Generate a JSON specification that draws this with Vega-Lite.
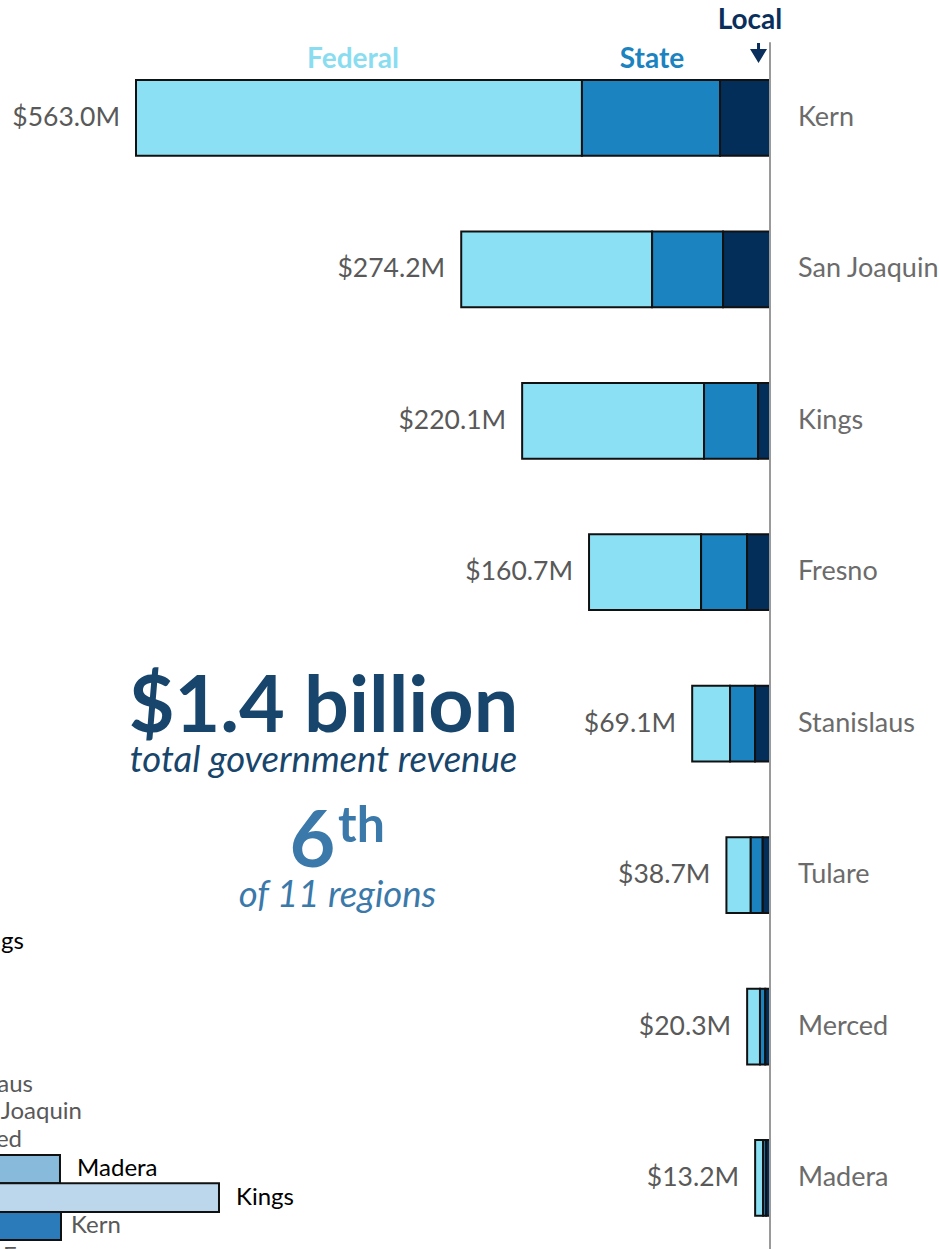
{
  "$schema": "https://vega.github.io/schema/vega-lite/v6.json",
  "width": 939,
  "height": 1249,
  "autosize": "none",
  "padding": 0,
  "background": "white",
  "config": {"view": {"stroke": null}, "font": "Lato"},
  "datasets": {
    "bars": [
      {"county": "Kern", "source": "Federal", "value": 396.0, "rank": 3},
      {"county": "Kern", "source": "State", "value": 122.6, "rank": 2},
      {"county": "Kern", "source": "Local", "value": 44.4, "rank": 1},
      {"county": "San Joaquin", "source": "Federal", "value": 169.5, "rank": 3},
      {"county": "San Joaquin", "source": "State", "value": 63.0, "rank": 2},
      {"county": "San Joaquin", "source": "Local", "value": 41.7, "rank": 1},
      {"county": "Kings", "source": "Federal", "value": 161.5, "rank": 3},
      {"county": "Kings", "source": "State", "value": 48.0, "rank": 2},
      {"county": "Kings", "source": "Local", "value": 10.6, "rank": 1},
      {"county": "Fresno", "source": "Federal", "value": 99.5, "rank": 3},
      {"county": "Fresno", "source": "State", "value": 40.8, "rank": 2},
      {"county": "Fresno", "source": "Local", "value": 20.4, "rank": 1},
      {"county": "Stanislaus", "source": "Federal", "value": 33.6, "rank": 3},
      {"county": "Stanislaus", "source": "State", "value": 22.2, "rank": 2},
      {"county": "Stanislaus", "source": "Local", "value": 13.3, "rank": 1},
      {"county": "Tulare", "source": "Federal", "value": 21.6, "rank": 3},
      {"county": "Tulare", "source": "State", "value": 10.6, "rank": 2},
      {"county": "Tulare", "source": "Local", "value": 6.5, "rank": 1},
      {"county": "Merced", "source": "Federal", "value": 11.4, "rank": 3},
      {"county": "Merced", "source": "State", "value": 4.7, "rank": 2},
      {"county": "Merced", "source": "Local", "value": 4.2, "rank": 1},
      {"county": "Madera", "source": "Federal", "value": 7.1, "rank": 3},
      {"county": "Madera", "source": "State", "value": 2.7, "rank": 2},
      {"county": "Madera", "source": "Local", "value": 3.4, "rank": 1}
    ],
    "totals": [
      {"county": "Kern", "total": 563.0, "label": "$563.0M"},
      {"county": "San Joaquin", "total": 274.2, "label": "$274.2M"},
      {"county": "Kings", "total": 220.1, "label": "$220.1M"},
      {"county": "Fresno", "total": 160.7, "label": "$160.7M"},
      {"county": "Stanislaus", "total": 69.1, "label": "$69.1M"},
      {"county": "Tulare", "total": 38.7, "label": "$38.7M"},
      {"county": "Merced", "total": 20.3, "label": "$20.3M"},
      {"county": "Madera", "total": 13.2, "label": "$13.2M"}
    ],
    "ghostbars": [
      {"name": "Madera", "end": 630.5, "r0": 6.848, "r1": 7.034},
      {"name": "Kings", "end": 489.3, "r0": 7.034, "r1": 7.225},
      {"name": "Kern", "end": 629.6, "r0": 7.225, "r1": 7.41}
    ],
    "ghostblackleft": [
      {"name": "Madera", "x": 615.3, "r": 6.941},
      {"name": "Kings", "x": 474.2, "r": 7.132}
    ],
    "ghostgrayleft": [
      {"name": "Kern", "x": 620.7, "r": 7.317},
      {"name": "Fresno", "x": 681.0, "r": 7.52}
    ],
    "ghostblackright": [
      {"name": "Kings", "x": 662.5, "r": 5.441}
    ],
    "ghostgrayright": [
      {"name": "Stanislaus", "x": 654.5, "r": 6.386},
      {"name": "San Joaquin", "x": 611.0, "r": 6.564},
      {"name": "Merced", "x": 664.2, "r": 6.749}
    ]
  },
  "layer": [
    {
      "layer": [
        {
          "data": {"name": "bars"},
          "mark": {"type": "bar", "stroke": "#111111", "strokeWidth": 2},
          "encoding": {
            "y": {"field": "county", "type": "nominal", "sort": ["Kern", "San Joaquin", "Kings", "Fresno", "Stanislaus", "Tulare", "Merced", "Madera"], "scale": {"paddingInner": 0.5, "paddingOuter": 0.374, "align": 0.707}, "axis": null},
            "x": {"field": "value", "type": "quantitative", "stack": "zero", "scale": {"domain": [-150.07, 683.77], "reverse": true, "nice": false, "zero": false}, "axis": null},
            "color": {"field": "source", "type": "nominal", "scale": {"domain": ["Federal", "State", "Local"], "range": ["#8CE0F4", "#1B83BF", "#032E5A"]}, "legend": null},
            "order": {"field": "rank", "type": "quantitative"}
          }
        },
        {
          "data": {"name": "totals"},
          "mark": {"type": "text", "align": "right", "baseline": "middle", "dx": -16, "fontSize": 26.5, "color": "#595959"},
          "encoding": {
            "y": {"field": "county", "type": "nominal", "sort": ["Kern", "San Joaquin", "Kings", "Fresno", "Stanislaus", "Tulare", "Merced", "Madera"], "scale": {"paddingInner": 0.5, "paddingOuter": 0.374, "align": 0.707}, "axis": null},
            "x": {"field": "total", "type": "quantitative", "scale": {"domain": [-150.07, 683.77], "reverse": true, "nice": false, "zero": false}, "axis": null},
            "text": {"field": "label"}
          }
        },
        {
          "data": {"name": "totals"},
          "mark": {"type": "text", "align": "left", "baseline": "middle", "dx": 28, "fontSize": 27, "color": "#6b6b6b"},
          "encoding": {
            "y": {"field": "county", "type": "nominal", "sort": ["Kern", "San Joaquin", "Kings", "Fresno", "Stanislaus", "Tulare", "Merced", "Madera"], "scale": {"paddingInner": 0.5, "paddingOuter": 0.374, "align": 0.707}, "axis": null},
            "x": {"datum": 0, "type": "quantitative", "scale": {"domain": [-150.07, 683.77], "reverse": true, "nice": false, "zero": false}, "axis": null},
            "text": {"field": "county"}
          }
        }
      ]
    },
    {
      "layer": [
        {
          "data": {"values": [{}]},
          "mark": {"type": "rule", "color": "#9a9a9a", "strokeWidth": 2},
          "encoding": {
            "x": {"datum": 0, "type": "quantitative", "scale": {"domain": [-150.07, 683.77], "reverse": true, "nice": false, "zero": false}, "axis": null},
            "y": {"datum": -0.5, "type": "quantitative", "scale": {"domain": [-0.779, 7.469], "reverse": true, "nice": false, "zero": false}, "axis": null},
            "y2": {"datum": 7.6}
          }
        },
        {
          "data": {"name": "ghostbars"},
          "mark": {"type": "bar", "stroke": "#111111", "strokeWidth": 2, "clip": true},
          "encoding": {
            "x": {"field": "end", "type": "quantitative", "scale": {"domain": [-150.07, 683.77], "reverse": true, "nice": false, "zero": false}, "axis": null},
            "x2": {"datum": 760},
            "y": {"field": "r0", "type": "quantitative", "scale": {"domain": [-0.779, 7.469], "reverse": true, "nice": false, "zero": false}, "axis": null},
            "y2": {"field": "r1"},
            "fill": {"field": "name", "type": "nominal", "scale": {"domain": ["Madera", "Kings", "Kern"], "range": ["#88BBDB", "#BCD7EB", "#2B7BBA"]}, "legend": null}
          }
        },
        {
          "data": {"name": "ghostblackleft"},
          "mark": {"type": "text", "align": "left", "baseline": "middle", "fontSize": 24, "color": "#000000", "clip": true},
          "encoding": {
            "x": {"field": "x", "type": "quantitative", "scale": {"domain": [-150.07, 683.77], "reverse": true, "nice": false, "zero": false}, "axis": null},
            "y": {"field": "r", "type": "quantitative", "scale": {"domain": [-0.779, 7.469], "reverse": true, "nice": false, "zero": false}, "axis": null},
            "text": {"field": "name"}
          }
        },
        {
          "data": {"name": "ghostgrayleft"},
          "mark": {"type": "text", "align": "left", "baseline": "middle", "fontSize": 24, "color": "#595959", "clip": true},
          "encoding": {
            "x": {"field": "x", "type": "quantitative", "scale": {"domain": [-150.07, 683.77], "reverse": true, "nice": false, "zero": false}, "axis": null},
            "y": {"field": "r", "type": "quantitative", "scale": {"domain": [-0.779, 7.469], "reverse": true, "nice": false, "zero": false}, "axis": null},
            "text": {"field": "name"}
          }
        },
        {
          "data": {"name": "ghostblackright"},
          "mark": {"type": "text", "align": "right", "baseline": "middle", "fontSize": 24, "color": "#000000", "clip": true},
          "encoding": {
            "x": {"field": "x", "type": "quantitative", "scale": {"domain": [-150.07, 683.77], "reverse": true, "nice": false, "zero": false}, "axis": null},
            "y": {"field": "r", "type": "quantitative", "scale": {"domain": [-0.779, 7.469], "reverse": true, "nice": false, "zero": false}, "axis": null},
            "text": {"field": "name"}
          }
        },
        {
          "data": {"name": "ghostgrayright"},
          "mark": {"type": "text", "align": "right", "baseline": "middle", "fontSize": 24, "color": "#595959", "clip": true},
          "encoding": {
            "x": {"field": "x", "type": "quantitative", "scale": {"domain": [-150.07, 683.77], "reverse": true, "nice": false, "zero": false}, "axis": null},
            "y": {"field": "r", "type": "quantitative", "scale": {"domain": [-0.779, 7.469], "reverse": true, "nice": false, "zero": false}, "axis": null},
            "text": {"field": "name"}
          }
        },
        {
          "data": {"values": [{"t": "Federal"}]},
          "mark": {"type": "text", "align": "center", "baseline": "middle", "fontSize": 28, "fontWeight": "bold", "color": "#8ADDF1"},
          "encoding": {
            "x": {"datum": 370.3, "type": "quantitative", "scale": {"domain": [-150.07, 683.77], "reverse": true, "nice": false, "zero": false}, "axis": null},
            "y": {"datum": -0.383, "type": "quantitative", "scale": {"domain": [-0.779, 7.469], "reverse": true, "nice": false, "zero": false}, "axis": null},
            "text": {"field": "t"}
          }
        },
        {
          "data": {"values": [{"t": "State"}]},
          "mark": {"type": "text", "align": "center", "baseline": "middle", "fontSize": 28, "fontWeight": "bold", "color": "#1B83BF"},
          "encoding": {
            "x": {"datum": 104.8, "type": "quantitative", "scale": {"domain": [-150.07, 683.77], "reverse": true, "nice": false, "zero": false}, "axis": null},
            "y": {"datum": -0.383, "type": "quantitative", "scale": {"domain": [-0.779, 7.469], "reverse": true, "nice": false, "zero": false}, "axis": null},
            "text": {"field": "t"}
          }
        },
        {
          "data": {"values": [{"t": "Local"}]},
          "mark": {"type": "text", "align": "center", "baseline": "middle", "fontSize": 28, "fontWeight": "bold", "color": "#0A2F5C"},
          "encoding": {
            "x": {"datum": 17.8, "type": "quantitative", "scale": {"domain": [-150.07, 683.77], "reverse": true, "nice": false, "zero": false}, "axis": null},
            "y": {"datum": -0.641, "type": "quantitative", "scale": {"domain": [-0.779, 7.469], "reverse": true, "nice": false, "zero": false}, "axis": null},
            "text": {"field": "t"}
          }
        },
        {
          "data": {"values": [{}]},
          "mark": {"type": "point", "filled": true, "opacity": 1, "size": 400, "color": "#0A2F5C", "shape": "M-0.15,-1L0.15,-1L0.15,-0.4L0.85,-0.4L0,1L-0.85,-0.4L-0.15,-0.4Z"},
          "encoding": {
            "x": {"datum": 10.2, "type": "quantitative", "scale": {"domain": [-150.07, 683.77], "reverse": true, "nice": false, "zero": false}, "axis": null},
            "y": {"datum": -0.429, "type": "quantitative", "scale": {"domain": [-0.779, 7.469], "reverse": true, "nice": false, "zero": false}, "axis": null}
          }
        },
        {
          "data": {"values": [{"t": "$1.4 billion"}]},
          "mark": {"type": "text", "align": "center", "baseline": "alphabetic", "fontSize": 79, "fontWeight": "bold", "color": "#17456B"},
          "encoding": {
            "x": {"datum": 396.5, "type": "quantitative", "scale": {"domain": [-150.07, 683.77], "reverse": true, "nice": false, "zero": false}, "axis": null},
            "y": {"datum": 4.055, "type": "quantitative", "scale": {"domain": [-0.779, 7.469], "reverse": true, "nice": false, "zero": false}, "axis": null},
            "text": {"field": "t"}
          }
        },
        {
          "data": {"values": [{"t": "total government revenue"}]},
          "mark": {"type": "text", "align": "center", "baseline": "alphabetic", "fontSize": 36.5, "fontStyle": "italic", "color": "#17456B"},
          "encoding": {
            "x": {"datum": 396.5, "type": "quantitative", "scale": {"domain": [-150.07, 683.77], "reverse": true, "nice": false, "zero": false}, "axis": null},
            "y": {"datum": 4.319, "type": "quantitative", "scale": {"domain": [-0.779, 7.469], "reverse": true, "nice": false, "zero": false}, "axis": null},
            "text": {"field": "t"}
          }
        },
        {
          "data": {"values": [{"t": "6"}]},
          "mark": {"type": "text", "align": "right", "baseline": "alphabetic", "fontSize": 79, "fontWeight": "bold", "color": "#3A79AA"},
          "encoding": {
            "x": {"datum": 386.0, "type": "quantitative", "scale": {"domain": [-150.07, 683.77], "reverse": true, "nice": false, "zero": false}, "axis": null},
            "y": {"datum": 4.946, "type": "quantitative", "scale": {"domain": [-0.779, 7.469], "reverse": true, "nice": false, "zero": false}, "axis": null},
            "text": {"field": "t"}
          }
        },
        {
          "data": {"values": [{"t": "th"}]},
          "mark": {"type": "text", "align": "left", "baseline": "alphabetic", "fontSize": 50, "fontWeight": "bold", "color": "#3A79AA"},
          "encoding": {
            "x": {"datum": 383.6, "type": "quantitative", "scale": {"domain": [-150.07, 683.77], "reverse": true, "nice": false, "zero": false}, "axis": null},
            "y": {"datum": 4.781, "type": "quantitative", "scale": {"domain": [-0.779, 7.469], "reverse": true, "nice": false, "zero": false}, "axis": null},
            "text": {"field": "t"}
          }
        },
        {
          "data": {"values": [{"t": "of 11 regions"}]},
          "mark": {"type": "text", "align": "center", "baseline": "alphabetic", "fontSize": 36.5, "fontStyle": "italic", "color": "#3A79AA"},
          "encoding": {
            "x": {"datum": 384.1, "type": "quantitative", "scale": {"domain": [-150.07, 683.77], "reverse": true, "nice": false, "zero": false}, "axis": null},
            "y": {"datum": 5.21, "type": "quantitative", "scale": {"domain": [-0.779, 7.469], "reverse": true, "nice": false, "zero": false}, "axis": null},
            "text": {"field": "t"}
          }
        }
      ]
    }
  ],
  "resolve": {"scale": {"y": "independent"}}
}
